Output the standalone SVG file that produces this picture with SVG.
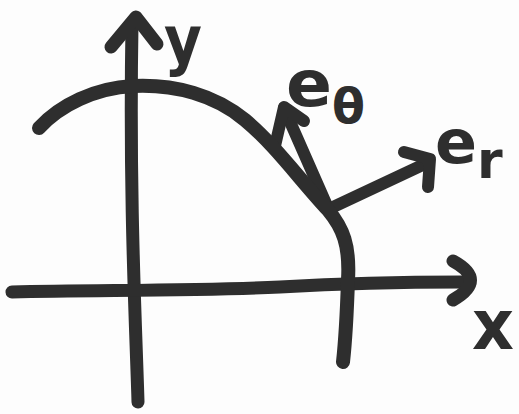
<svg xmlns="http://www.w3.org/2000/svg" width="519" height="414" viewBox="0 0 519 414">
<style>
.ink{fill:none;stroke:#2e2e2e;stroke-linecap:round;stroke-linejoin:round}
.lbl{font-family:"DejaVu Sans",sans-serif;font-weight:bold;fill:#2e2e2e}
</style>
<rect width="519" height="414" fill="#fdfdfd"/>
<g id="connectors">
  <g id="y-axis">
    <path class="ink" stroke-width="13" d="M138,402 C136,330 129,200 132,24"/>
    <path class="ink" stroke-width="13" d="M111,47 L136,17 L157,44"/>
  </g>
  <g id="x-axis">
    <path class="ink" stroke-width="13" d="M12,292 C100,290 200,291 280,287 C350,283 420,282 462,282"/>
    <path class="ink" stroke-width="13" d="M453,261 Q488,280 453,300"/>
  </g>
  <g id="e-theta-arrow">
    <path class="ink" stroke-width="12" d="M328,208 L284,108"/>
    <path class="ink" stroke-width="12" d="M275,146 L284,107 L304,121"/>
  </g>
  <g id="e-r-arrow">
    <path class="ink" stroke-width="12" d="M331,208 L429,162"/>
    <path class="ink" stroke-width="12" d="M404,152 L430,159 L428,187"/>
  </g>
</g>
<g id="curve">
  <path class="ink" stroke-width="14" d="M39,128 C60,105 95,88 133,86 C175,84 215,95 245,120 C275,145 300,180 328,210 C343,228 350,245 348,280 C347,310 346,335 343,362"/>
</g>
<g id="label-y">
  <text class="lbl" x="164" y="63" font-size="66" textLength="38" lengthAdjust="spacingAndGlyphs">y</text>
</g>
<g id="label-x">
  <text class="lbl" x="472" y="349" font-size="70" textLength="42" lengthAdjust="spacingAndGlyphs">x</text>
</g>
<g id="label-e-theta">
  <text class="lbl" x="286" y="106" font-size="64" textLength="46" lengthAdjust="spacingAndGlyphs">e</text>
  <text class="lbl" x="332" y="123" font-size="48">θ</text>
</g>
<g id="label-e-r">
  <text class="lbl" x="435" y="163" font-size="60" textLength="42" lengthAdjust="spacingAndGlyphs">e</text>
  <text class="lbl" x="477" y="178" font-size="52">r</text>
</g>
</svg>
